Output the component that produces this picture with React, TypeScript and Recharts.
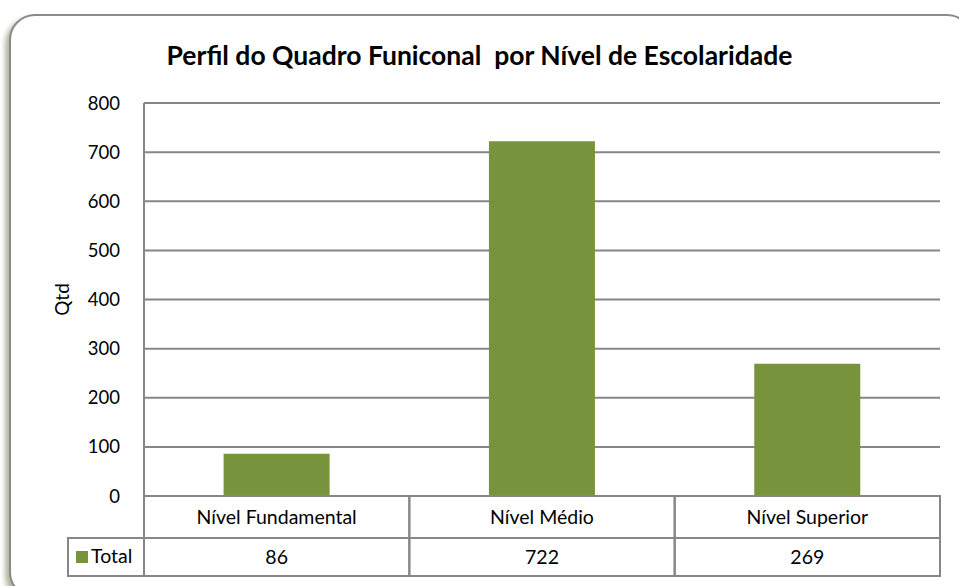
import React from 'react';
import { BarChart, Bar, XAxis, YAxis, CartesianGrid } from 'recharts';

// categories and values
const categories = ['Nível Fundamental', 'Nível Médio', 'Nível Superior'];
const totals = [86, 722, 269];
const yTicks = [0, 100, 200, 300, 400, 500, 600, 700, 800];
const seriesName = 'Total';
const title = 'Perfil do Quadro Funiconal  por Nível de Escolaridade';

const data = categories.map((name, i) => ({ name, total: totals[i] }));

const W = 959;
const H = 586;
const gridColor = '#868686';
const barColor = '#77933C';
const font = 'Lato, "Open Sans", sans-serif';

// data table under the plot, drawn as the x-axis ticks
function TableTick(props: any) {
  const { x, y, payload, index } = props;
  const band = 796 / categories.length;
  const left = x - band / 2;
  const top = y - 8; // axis line
  const rowH = 42;
  const row2 = 38;
  const i = index ?? payload.index;
  const value = totals[i];
  return (
    <g>
      <rect x={left} y={top} width={band} height={rowH} fill="none" stroke={gridColor} strokeWidth={2} />
      <rect x={left} y={top + rowH} width={band} height={row2} fill="none" stroke={gridColor} strokeWidth={2} />
      <text x={x} y={top + 28} textAnchor="middle" fontSize={19.5} fill="#000" fontFamily={font}>{payload.value}</text>
      <text x={x} y={top + rowH + 26} textAnchor="middle" fontSize={19.5} fill="#000" fontFamily={font}>{value}</text>
      {i === 0 && (
        <g>
          <rect x={left - 76} y={top + rowH} width={76} height={row2} fill="none" stroke={gridColor} strokeWidth={2} />
          <rect x={left - 68} y={top + rowH + 13} width={12} height={12} fill={barColor} />
          <text x={left - 53} y={top + rowH + 25} fontSize={19.5} fill="#000" fontFamily={font}>{seriesName}</text>
        </g>
      )}
    </g>
  );
}

export default function App() {
  return (
    <div style={{ position: 'absolute', left: 0, top: 0, width: W, height: H, overflow: 'hidden', background: '#fff' }}>
      <div
        style={{
          position: 'absolute',
          left: 9,
          top: 14,
          width: 960,
          height: 580,
          border: '2px solid #8a8a8a',
          borderRadius: 26,
          boxShadow: '-4px 4px 5px rgba(110,125,80,0.55)',
          background: '#fff',
        }}
      />
      <div
        style={{
          position: 'absolute',
          left: 0,
          width: W,
          top: 39,
          textAlign: 'center',
          whiteSpace: 'pre',
          fontFamily: font,
          fontWeight: 700,
          fontSize: 26.5,
          color: '#000',
        }}
      >
        {title}
      </div>
      <div style={{ position: 'absolute', left: 0, top: 0 }}>
        <BarChart width={W} height={H} data={data} margin={{ top: 103, right: 19, bottom: 10, left: 52 }} barCategoryGap="30%">
          <CartesianGrid vertical={false} stroke={gridColor} strokeWidth={2} />
          <XAxis
            dataKey="name"
            height={80}
            axisLine={false}
            tickLine={false}
            interval={0}
            tick={<TableTick />}
          />
          <YAxis
            domain={[0, 800]}
            ticks={yTicks}
            width={92}
            axisLine={{ stroke: gridColor, strokeWidth: 2 }}
            tickLine={false}
            tickMargin={18}
            tick={{ fontSize: 18.5, fill: '#000', fontFamily: font }}
            label={{ value: 'Qtd', angle: -90, position: 'insideLeft', offset: 10, style: { fontSize: 19, fill: '#000', fontFamily: font, textAnchor: 'middle' } }}
          />
          <Bar dataKey="total" fill={barColor} isAnimationActive={false} />
        </BarChart>
      </div>
    </div>
  );
}
